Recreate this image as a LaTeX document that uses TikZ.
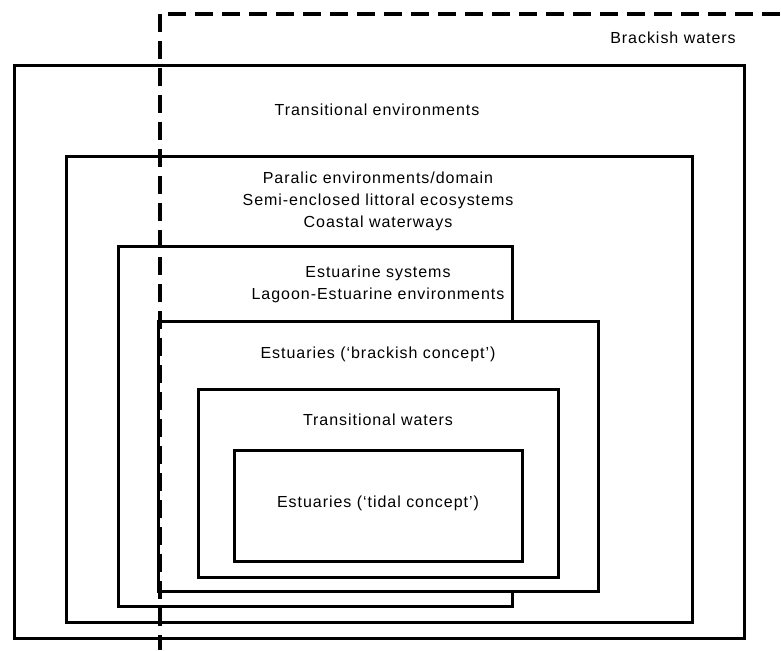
\documentclass[tikz,border=0pt]{standalone}
\usepackage{fontspec}
\setmainfont{Liberation Sans}[LetterSpace=6]

\begin{document}
\begin{tikzpicture}[x=1pt,y=-1pt,
    box/.style={line width=3pt,fill=white},
    brackishline/.style={line width=4pt,dash pattern=on 18pt off 9pt},
    lbl/.style={font=\fontsize{16}{22}\selectfont,align=center,inner sep=0pt}]
    \useasboundingbox (0,0) rectangle (781,650);
    % nested boxes, outermost first
    \draw[box] (14,66)   rectangle (744,638);
    \draw[box] (66,156)  rectangle (692,622);
    \draw[box] (118,246) rectangle (512,606);
    \draw[box] (158,321) rectangle (598,591);
    \draw[box] (198,389) rectangle (558,577);
    \draw[box] (234,450) rectangle (522,561);
    % brackish waters limit
    \draw[brackishline] (160,14) -- (160,650);
    \draw[brackishline] (168,14) -- (781,14);
    % labels
    \node[lbl] (bw)    at (673,38)    {Brackish waters};
    \node[lbl] (trenv) at (377,110)   {Transitional environments};
    \node[lbl] (par)   at (378,201.5) {Paralic environments/domain\\Semi-enclosed littoral ecosystems\\Coastal waterways};
    \node[lbl] (estsys) at (378,284.5) {Estuarine systems\\Lagoon-Estuarine environments};
    \node[lbl] (estbr) at (378,354)   {Estuaries (‘brackish concept’)};
    \node[lbl] (trw)   at (378,420)   {Transitional waters};
    \node[lbl] (esttd) at (378,503)   {Estuaries (‘tidal concept’)};
\end{tikzpicture}
\end{document}
